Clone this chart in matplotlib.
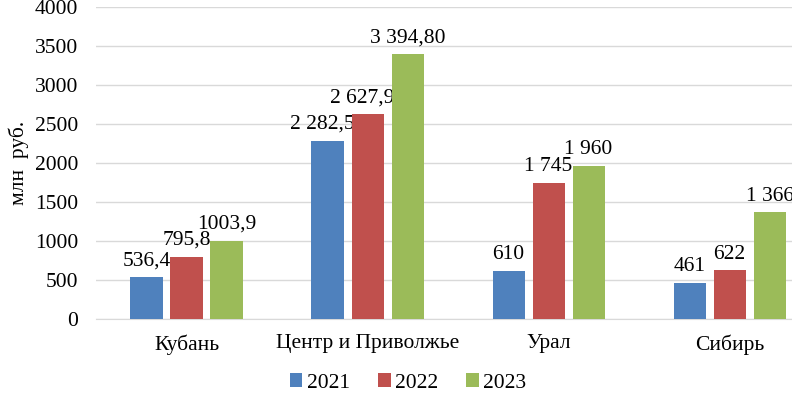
import numpy as np
import matplotlib.pyplot as plt

regions = ["Кубань", "Центр и Приволжье", "Урал", "Сибирь"]
years = ["2021", "2022", "2023"]
v2021 = [536.4, 2282.5, 610, 461]
v2022 = [795.8, 2627.9, 1745, 622]
v2023 = [1003.9, 3394.8, 1960, 1366]
lab2021 = ["536,4", "2 282,50", "610", "461"]
lab2022 = ["795,8", "2 627,90", "1 745", "622"]
lab2023 = ["1003,9", "3 394,80", "1 960", "1 366"]
colors = ["#4F81BD", "#C0504D", "#9BBB59"]

plt.rcParams['font.family'] = ['Liberation Serif', 'DejaVu Serif']
plt.rcParams['font.size'] = 15.5

fig = plt.figure(figsize=(7.92, 3.95), dpi=100)
ax = fig.add_axes([96/792, 1 - 319/395, 1 - 96/792, 312/395])

x = np.arange(len(regions))
step = 0.221
w = 0.177
for i, (vals, labs) in enumerate(zip([v2021, v2022, v2023], [lab2021, lab2022, lab2023])):
    bars = ax.bar(x + (i - 1) * step, vals, w, color=colors[i], label=years[i], zorder=3)
    for b, t in zip(bars, labs):
        ax.annotate(t, (b.get_x() + b.get_width() / 2, b.get_height()),
                    xytext=(0, 5), textcoords="offset points",
                    ha="center", va="bottom")

ax.set_xlim(-0.5, 3.345)
ax.set_ylim(0, 4000)
ax.set_yticks(np.arange(0, 4001, 500))
ax.set_xticks(x)
ax.set_xticklabels(regions)
ax.tick_params(length=0)
ax.tick_params(axis='y', pad=13)
ax.tick_params(axis='x', pad=11)
ax.grid(axis='y', color='#d9d9d9', linewidth=1, zorder=0)
for s in ["top", "right", "left"]:
    ax.spines[s].set_visible(False)
ax.spines["bottom"].set_color('#d9d9d9')
ax.set_ylabel("млн  руб.", labelpad=4)

fig.legend(loc="center", bbox_to_anchor=(408/792, 1 - 383/395), ncol=3, frameon=False,
           handlelength=0.6, handleheight=0.6, handletextpad=0.2, columnspacing=1.3,
           borderpad=0, borderaxespad=0)

fig.savefig("out.png", dpi=100)
